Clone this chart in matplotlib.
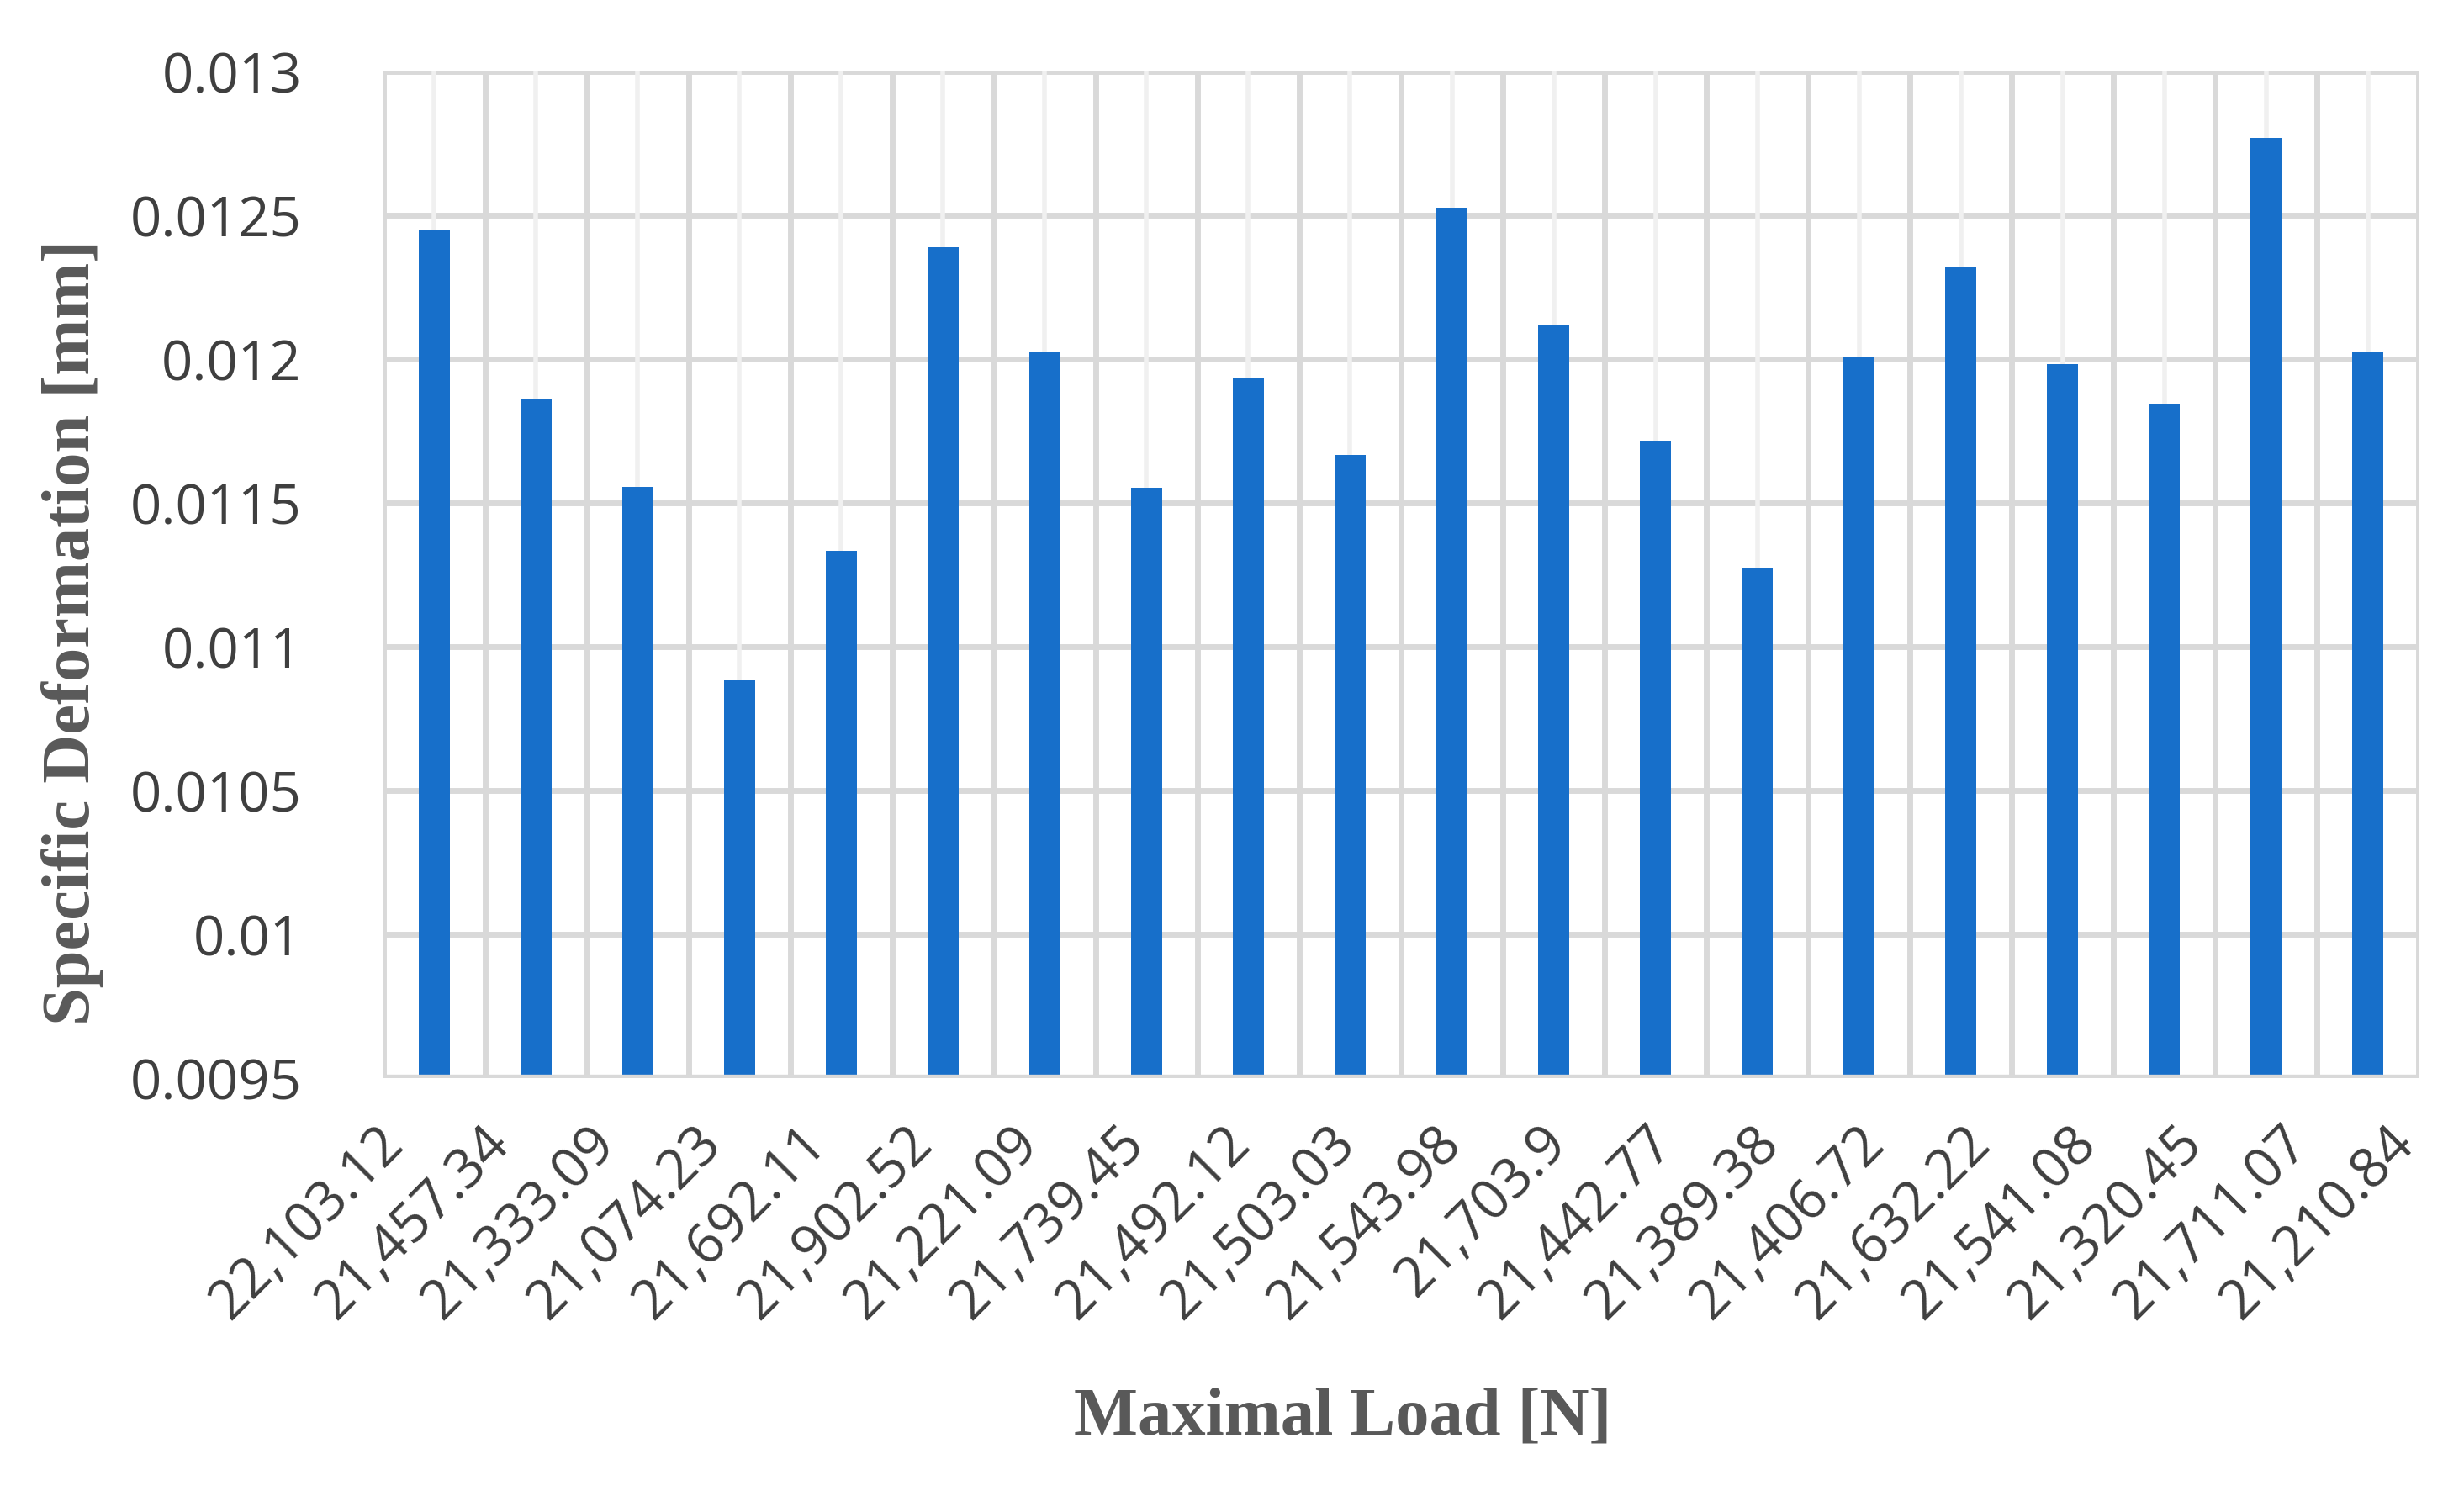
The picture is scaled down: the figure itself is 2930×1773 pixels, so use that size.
import numpy as np
import matplotlib
matplotlib.use('Agg')
import matplotlib.pyplot as plt
import matplotlib.transforms as mtransforms
from matplotlib import rcParams

rcParams['font.family'] = ['Open Sans', 'DejaVu Sans']

loads = ['22,103.12', '21,457.34', '21,333.09', '21,074.23', '21,692.11',
         '21,902.52', '21,221.09', '21,739.45', '21,492.12', '21,503.03',
         '21,543.98', '21,703.9', '21,442.77', '21,389.38', '21,406.72',
         '21,632.22', '21,541.08', '21,320.45', '21,711.07', '21,210.84']
deformation = [0.01245, 0.011864, 0.011556, 0.010883, 0.011335,
               0.012388, 0.012024, 0.011554, 0.011936, 0.011666,
               0.012528, 0.012117, 0.011718, 0.011273, 0.012007,
               0.012321, 0.011984, 0.011843, 0.012769, 0.012026]
y_ticks = [0.0095, 0.01, 0.0105, 0.011, 0.0115, 0.012, 0.0125, 0.013]
y_tick_labels = ['0.0095', '0.01', '0.0105', '0.011', '0.0115', '0.012', '0.0125', '0.013']

bar_color = '#176fca'
grid_dark = '#d9d9d9'
grid_light = '#f0f0f0'
text_color = '#3f3f3f'
label_color = '#595959'

fig = plt.figure(figsize=(29.3, 17.73), dpi=100)
ax = fig.add_axes([0.1556, 0.2769, 0.8260, 0.6751])

x = np.arange(len(loads))

# grid: horizontal majors, vertical lines between categories and lighter at centres
for yv in y_ticks:
    ax.axhline(yv, color=grid_dark, linewidth=5, zorder=0)
for xv in np.arange(-0.5, len(loads), 1.0):
    ax.axvline(xv, color=grid_dark, linewidth=5, zorder=0)
for xv in x:
    ax.axvline(xv, color=grid_light, linewidth=4, zorder=0)

ax.bar(x, deformation, width=0.31, color=bar_color, zorder=2)

ax.set_xlim(-0.5, len(loads) - 0.5)
ax.set_ylim(0.0095, 0.013)
ax.set_yticks(y_ticks)
ax.set_yticklabels(y_tick_labels, fontsize=47, color=text_color)
ax.set_xticks(x)
ax.set_xticklabels(loads, fontsize=47, color=text_color, rotation=45,
                   ha='right', va='center', rotation_mode='anchor')
ax.tick_params(axis='both', length=0)
ax.tick_params(axis='y', pad=70)
ax.tick_params(axis='x', pad=40)

# the labels in the original are spread a little wider than the bars
n = len(loads)
for i, lab in enumerate(ax.get_xticklabels()):
    dx = (-46 + i * 91.0 / (n - 1)) / 100.0
    lab.set_transform(lab.get_transform() +
                      mtransforms.ScaledTranslation(dx, -0.12, fig.dpi_scale_trans))

for s in ax.spines.values():
    s.set_visible(False)
ax.axhline(0.0095, color=grid_dark, linewidth=6, zorder=3)

fig.text(0.0294, 0.576, 'Specific Deformation [mm]', rotation=90, ha='center', va='center',
         fontsize=58, fontweight='bold', family='Liberation Serif', color=label_color)
fig.text(0.545, 0.049, 'Maximal Load [N]', ha='center', va='center',
         fontsize=58, fontweight='bold', family='Liberation Serif', color=label_color)

plt.savefig('out.png', dpi=100)
